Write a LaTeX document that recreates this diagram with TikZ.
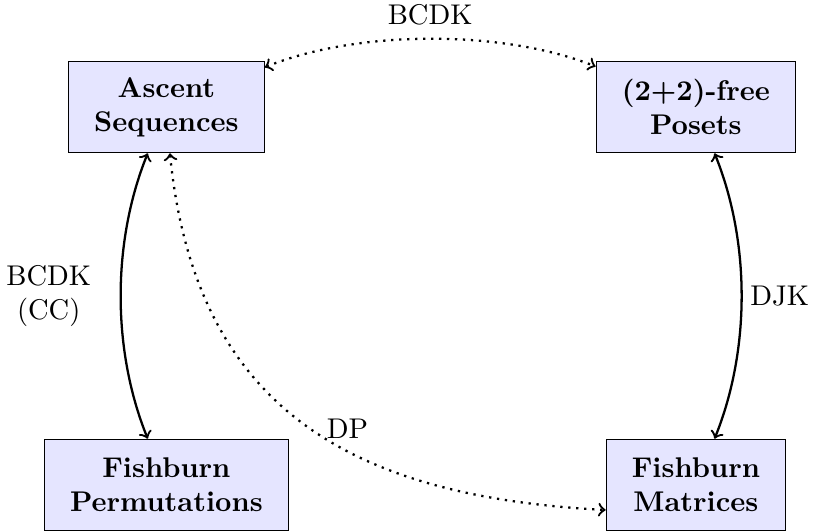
\documentclass[tikz,border=0pt]{standalone}
\usetikzlibrary{calc}
\begin{document}
\begin{tikzpicture}[x=0.35088pt, y=0.35088pt,
  objbox/.style={draw=black, fill=blue!10, align=center, font=\bfseries,
                 minimum height=32.1pt, inner xsep=9pt, inner ysep=0pt},
  link/.style={<->, thick},
  linkdot/.style={<->, thick, dotted}]
\useasboundingbox (0,0) rectangle (814,531);

% the four families of objects
\node[objbox] (asc)  at (166.4,424) {Ascent\\Sequences};
\node[objbox] (pos)  at (695.9,424) {(2+2)-free\\Posets};
\node[objbox] (perm) at (166.4,46)  {Fishburn\\Permutations};
\node[objbox] (mat)  at (695.9,46)  {Fishburn\\Matrices};

% bijections between them
\draw[linkdot] (asc) to[bend left=22, looseness=0.77]
  node[above=1pt] (lbcdk) {BCDK} (pos);
\draw[link] (asc) to[bend right=22, looseness=0.86]
  node[left=6.7pt, align=center] (lcc) {BCDK\\(CC)} (perm);
\draw[link] (pos) to[bend left=22, looseness=0.86]
  node[anchor=west, xshift=-0.6pt] (ldjk) {DJK} (mat);
\draw[linkdot] ($(asc.south)+(3.5,0)$) to[out=-84.3, in=177, looseness=1.16]
  node[pos=0.5, anchor=west, xshift=5.2pt, yshift=-2.5pt] (ldp) {DP}
  ($(mat.west)+(0,-25)$);
\end{tikzpicture}
\end{document}
